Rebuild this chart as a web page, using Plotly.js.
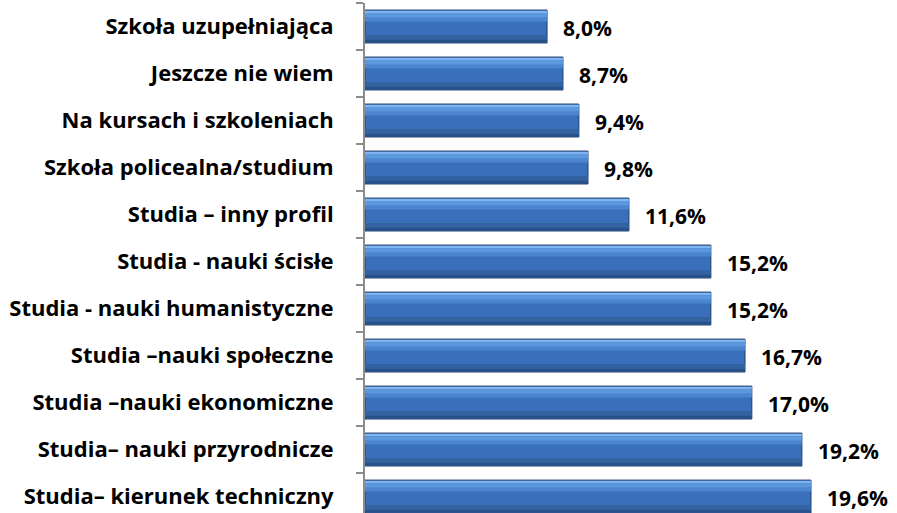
<!DOCTYPE html>
<html>
<head>
<meta charset="utf-8">
<script src="https://cdn.plot.ly/plotly-3.0.1.min.js"></script>
<style>html,body{margin:0;padding:0;background:#fff;}#chart{width:897px;height:513px;}</style>
</head>
<body>
<div id="chart"></div>
<script>
const categories = [
  "Szkoła uzupełniająca",
  "Jeszcze nie wiem",
  "Na kursach i szkoleniach",
  "Szkoła policealna/studium",
  "Studia – inny profil",
  "Studia - nauki ścisłe",
  "Studia - nauki humanistyczne",
  "Studia –nauki społeczne",
  "Studia –nauki ekonomiczne",
  "Studia– nauki przyrodnicze",
  "Studia– kierunek techniczny"
];
const values = [8.0, 8.7, 9.4, 9.8, 11.6, 15.2, 15.2, 16.7, 17.0, 19.2, 19.6];
const valueLabels = ["8,0%", "8,7%", "9,4%", "9,8%", "11,6%", "15,2%", "15,2%", "16,7%", "17,0%", "19,2%", "19,6%"];

const FONT = "Open Sans, DejaVu Sans, sans-serif";
const W = 0.70;
// stripes to imitate the gradient fill (top → bottom)
const stripes = [
  {off: -W/2, w: W, color: "#3a70bb", line: {color: "#1f3c68", width: 1}},
  {off: -W/2 + 0.015, w: 0.05, color: "#7fb4ee"},
  {off: -W/2 + 0.065, w: 0.10, color: "#5c98de"},
  {off: -W/2 + 0.165, w: 0.08, color: "#4b85cf"},
  {off: W/2 - 0.17, w: 0.10, color: "#32629f"},
  {off: W/2 - 0.07, w: 0.055, color: "#28518a"}
];
const traces = stripes.map(s => ({
  type: "bar",
  orientation: "h",
  y: categories,
  x: values,
  offset: s.off,
  width: s.w,
  marker: {color: s.color, line: s.line || {width: 0}},
  hoverinfo: "skip"
}));

const annotations = categories.map((c, i) => ({
  x: values[i], y: c, xref: "x", yref: "y",
  text: valueLabels[i], showarrow: false,
  xanchor: "left", xshift: 14, yshift: -1,
  font: {family: FONT, size: 21, color: "#000", weight: "bold"}
}));

const layout = {
  width: 897, height: 513,
  margin: {l: 365, r: 0, t: 3, b: 0},
  paper_bgcolor: "#fff", plot_bgcolor: "#fff",
  barmode: "overlay",
  showlegend: false,
  xaxis: {range: [0, 23.38], visible: false, fixedrange: true},
  yaxis: {
    type: "category",
    range: [10.35, -0.5],
    showline: true, linecolor: "#8c8c8c", linewidth: 2,
    ticks: "outside", tickson: "boundaries", ticklen: 7, tickcolor: "#8c8c8c", tickwidth: 2,
    ticklabelstandoff: 25,
    showgrid: false, zeroline: false,
    tickfont: {family: FONT, size: 22, color: "#000", weight: "bold"}
  },
  annotations: annotations
};
Plotly.newPlot("chart", traces, layout, {displayModeBar: false, staticPlot: true});
</script>
</body>
</html>
